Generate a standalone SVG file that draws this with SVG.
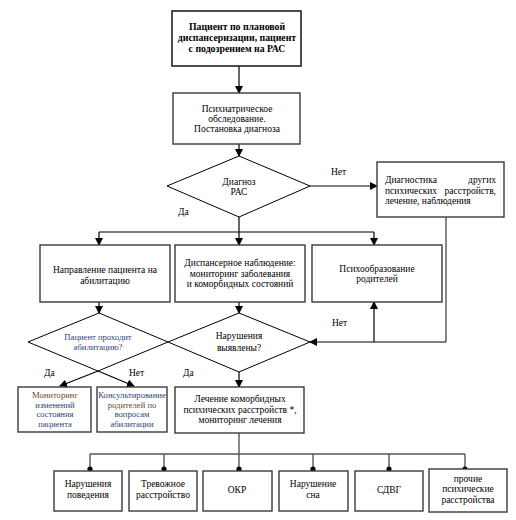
<svg xmlns="http://www.w3.org/2000/svg" width="516" height="520" viewBox="0 0 516 520">
<defs>
<marker id="arr" markerWidth="8" markerHeight="8" refX="7" refY="4" orient="auto" markerUnits="userSpaceOnUse">
<path d="M0,0 L8,4 L0,8 Z" fill="#000"/>
</marker>
<style>
.box{fill:#fff;stroke:#3a3a3a;stroke-width:1.4}
.dia{fill:#fff;stroke:#000;stroke-width:1}
.ln{fill:none;stroke:#000;stroke-width:1.2}
.gl{fill:none;stroke:#555;stroke-width:1.4}
.t{font-family:"Liberation Serif","Times New Roman",serif;font-size:9.5px;fill:#000;text-anchor:middle}
.b{font-weight:bold;font-size:9.8px}
.lbl{font-family:"Liberation Serif","Times New Roman",serif;font-size:9.5px;fill:#000}
.navy{fill:#2E3F78;font-size:8.6px}
.brown{fill:#6B4A28}
</style>
</defs>
<rect width="516" height="520" fill="#fff"/>

<g id="connectors">
<line class="ln" x1="239" y1="66" x2="239" y2="93" marker-end="url(#arr)"/>
<line class="ln" x1="239" y1="144" x2="239" y2="156" marker-end="url(#arr)"/>
<line class="ln" x1="310" y1="186" x2="377" y2="186" marker-end="url(#arr)"/>
<line class="ln" x1="239" y1="217" x2="239" y2="232"/>
<line class="ln" x1="99" y1="232" x2="374" y2="232"/>
<line class="ln" x1="99" y1="232" x2="99" y2="245" marker-end="url(#arr)"/>
<line class="ln" x1="239" y1="232" x2="239" y2="245" marker-end="url(#arr)"/>
<line class="ln" x1="374" y1="232" x2="374" y2="245" marker-end="url(#arr)"/>
<polyline class="gl" points="446,217 446,342"/>
<line class="ln" x1="446" y1="342" x2="310" y2="342" marker-end="url(#arr)"/>
<line class="ln" x1="374" y1="342" x2="374" y2="302" marker-end="url(#arr)"/>
<line class="ln" x1="99" y1="302" x2="99" y2="313" marker-end="url(#arr)"/>
<line class="ln" x1="239" y1="302" x2="239" y2="313" marker-end="url(#arr)"/>
<line class="ln" x1="98" y1="371" x2="60" y2="386" marker-end="url(#arr)"/>
<line class="ln" x1="98" y1="371" x2="134" y2="386" marker-end="url(#arr)"/>
<line class="ln" x1="239" y1="372" x2="239" y2="387" marker-end="url(#arr)"/>
<line class="gl" x1="239" y1="433" x2="239" y2="454"/>
<line class="gl" x1="90" y1="454" x2="465" y2="454"/>
<g class="gl">
<line x1="90" y1="454" x2="90" y2="470"/>
<line x1="164" y1="454" x2="164" y2="470"/>
<line x1="239" y1="454" x2="239" y2="470"/>
<line x1="313" y1="454" x2="313" y2="470"/>
<line x1="389" y1="454" x2="389" y2="470"/>
<line x1="465" y1="454" x2="465" y2="470"/>
</g>
<g fill="#000">
<circle cx="90" cy="469" r="2.6"/>
<circle cx="164" cy="469" r="2.6"/>
<circle cx="239" cy="469" r="2.6"/>
<circle cx="313" cy="469" r="2.6"/>
<circle cx="389" cy="469" r="2.6"/>
<circle cx="465" cy="469" r="2.6"/>
</g>
<text class="lbl" x="178" y="215">Да</text>
<text class="lbl" x="331" y="175">Нет</text>
<text class="lbl" x="332" y="326">Нет</text>
<text class="lbl" x="44" y="376">Да</text>
<text class="lbl" x="129" y="376">Нет</text>
<text class="lbl" x="183" y="376">Да</text>
</g>

<g id="start">
<rect class="box" x="172" y="11" width="129" height="55" style="stroke:#222;stroke-width:1.6"/>
<text class="t b" x="237" y="30">Пациент по плановой</text>
<text class="t b" x="237" y="41">диспансеризации, пациент</text>
<text class="t b" x="237" y="52">с подозрением на РАС</text>
</g>

<g id="exam">
<rect class="box" x="173" y="93" width="127" height="51"/>
<text class="t" x="237" y="112">Психиатрическое</text>
<text class="t" x="237" y="122">обследование.</text>
<text class="t" x="237" y="132">Постановка диагноза</text>
</g>

<g id="diag">
<polygon class="dia" points="167,186 239,156 310,186 239,217"/>
<text class="t" x="239" y="185">Диагноз</text>
<text class="t" x="239" y="195">РАС</text>
</g>

<g id="other">
<rect class="box" x="377" y="162" width="127" height="55"/>
<text class="lbl" x="385" y="183">Диагностика</text>
<text class="lbl" x="496" y="183" text-anchor="end">других</text>
<text class="lbl" x="385" y="194">психических</text>
<text class="lbl" x="496" y="194" text-anchor="end">расстройств,</text>
<text class="lbl" x="385" y="204">лечение, наблюдения</text>
</g>

<g id="habil">
<rect class="box" x="40" y="245" width="130" height="57"/>
<text class="t" x="105" y="273">Направление пациента на</text>
<text class="t" x="105" y="284">абилитацию</text>
</g>

<g id="dispensary">
<rect class="box" x="175" y="245" width="130" height="57"/>
<text class="t" x="240" y="266">Диспансерное наблюдение:</text>
<text class="t" x="240" y="277">мониторинг заболевания</text>
<text class="t" x="240" y="287">и коморбидных состояний</text>
</g>

<g id="psychoed">
<rect class="box" x="312" y="245" width="130" height="57"/>
<text class="t" x="377" y="272">Психообразование</text>
<text class="t" x="377" y="282">родителей</text>
</g>

<g id="habil-q">
<polygon class="dia" points="28,342 99,313 168,342 98,371"/>
<text class="t navy" x="98" y="340">Пациент проходит</text>
<text class="t navy" x="98" y="350">абилитацию?</text>
</g>

<g id="disorders-q">
<polygon class="dia" points="168,342 239,313 310,342 239,372"/>
<text class="t" x="239" y="339">Нарушения</text>
<text class="t" x="239" y="351">выявлены?</text>
</g>

<g id="monitor">
<rect class="box" x="18" y="387" width="73" height="45"/>
<text class="t navy" x="55" y="398"><tspan class="brown">Мониторинг</tspan></text>
<text class="t navy" x="55" y="408">изменений</text>
<text class="t navy" x="55" y="417">состояния</text>
<text class="t navy" x="55" y="427">пациента</text>
</g>

<g id="consult">
<rect class="box" x="97" y="387" width="70" height="45"/>
<text class="t navy" x="132" y="398">Консультирование</text>
<text class="t navy" x="132" y="408"><tspan class="brown">родителей по</tspan></text>
<text class="t navy" x="132" y="417">вопросам</text>
<text class="t navy" x="132" y="427">абилитации</text>
</g>

<g id="treatment">
<rect class="box" x="175" y="387" width="129" height="46"/>
<text class="t" x="240" y="402">Лечение коморбидных</text>
<text class="t" x="240" y="413">психических расстройств *,</text>
<text class="t" x="240" y="423">мониторинг лечения</text>
</g>

<g id="behav">
<rect class="box" x="54" y="471" width="68" height="40"/>
<text class="t" x="88" y="487">Нарушения</text>
<text class="t" x="88" y="498">поведения</text>
</g>
<g id="anxiety">
<rect class="box" x="129" y="471" width="68" height="40"/>
<text class="t" x="163" y="487">Тревожное</text>
<text class="t" x="163" y="498">расстройство</text>
</g>
<g id="ocd">
<rect class="box" x="203" y="471" width="69" height="40"/>
<text class="t" x="237" y="493">ОКР</text>
</g>
<g id="sleep">
<rect class="box" x="279" y="471" width="69" height="40"/>
<text class="t" x="313" y="487">Нарушение</text>
<text class="t" x="313" y="498">сна</text>
</g>
<g id="adhd">
<rect class="box" x="355" y="471" width="68" height="40"/>
<text class="t" x="389" y="493">СДВГ</text>
</g>
<g id="other-dis">
<rect class="box" x="429" y="469" width="78" height="43"/>
<text class="t" x="468" y="482">прочие</text>
<text class="t" x="468" y="492">психические</text>
<text class="t" x="468" y="503">расстройства</text>
</g>
</svg>
